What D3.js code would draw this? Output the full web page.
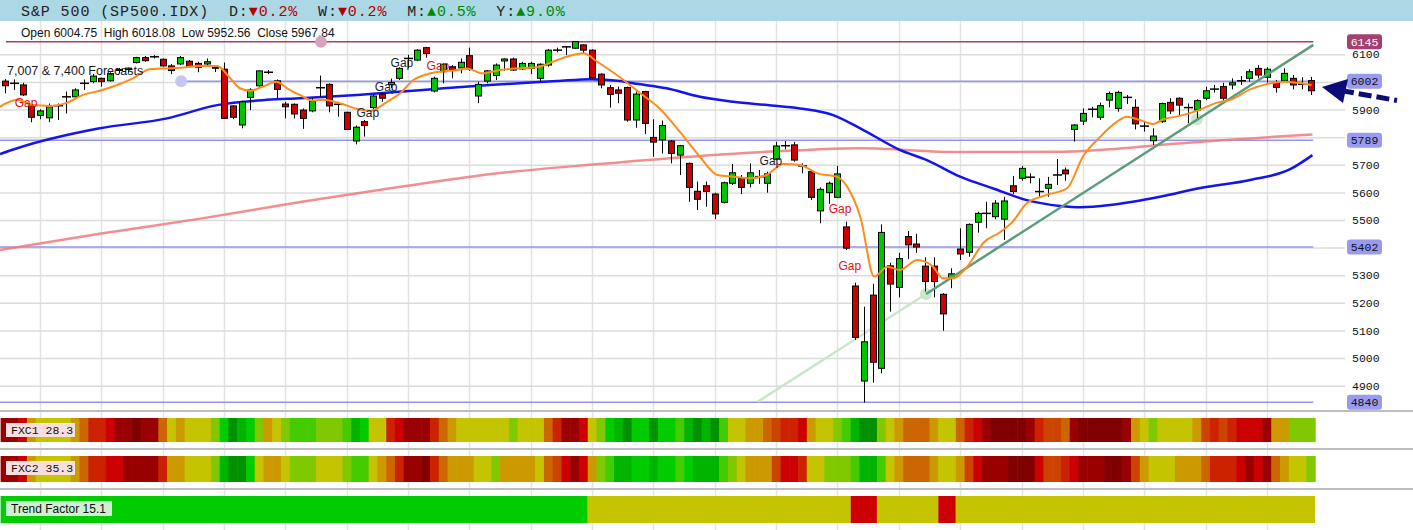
<!DOCTYPE html>
<html><head><meta charset="utf-8">
<script src="https://cdn.jsdelivr.net/npm/d3@7"></script>
<style>body{margin:0;background:#fff}svg{display:block}</style>
</head><body>
<svg id="c" width="1413" height="530"></svg>
<script>
// ---------------- DATA ----------------
const symbolTitle = "S&P 500 (SP500.IDX)";
const changeLabels = ["D", "W", "M", "Y"];
const changeValues = [-0.2, -0.2, 0.5, 9.0];

const opens = [6003,5995,5989,5913,5879,5870,5914,5946,5946,5995,
 6001,6013,6004,6043,6045,6070,6088,6091,6082,6058,
 6065,6075,6067,6065,6053,6046,5913,5844,5944,5986,
 6035,6004,5920,5919,5898,5895,5979,5991,5919,5890,
 5786,5856,5907,5956,5990,6013,6085,6079,6124,5967,
 6037,6055,6051,6095,5949,6003,6023,6076,6083,6047,
 6049,6013,6061,6115,6127,6122,6134,6115,6028,5979,
 5971,5980,5862,5965,5799,5790,5786,5735,5705,5604,
 5624,5594,5564,5633,5651,5633,5657,5633,5720,5769,
 5772,5696,5675,5533,5599,5582,5475,5261,4917,5228,
 4963,5334,5256,5440,5413,5333,5333,5231,5289,5395,
 5383,5492,5524,5512,5503,5624,5651,5655,5603,5615,
 5663,5681,5828,5858,5901,5872,5934,5904,5944,5908,
 5840,5787,5856,5926,5941,5907,5898,5941,5974,5983,
 5989,6004,6013,6049,6017,5997,6004,6013,5992,6004.75];
const highs = [6010,6009,5997,5916,5901,5922,5922,5965,5977,6009,
 6029,6015,6035,6050,6052,6091,6094,6097,6085,6065,
 6094,6079,6073,6085,6057,6070,5916,5932,5977,6041,
 6043,6009,5928,5922,5904,5943,6023,5995,5928,5892,
 5842,5862,5953,5962,6012,6053,6098,6119,6127,6019,
 6067,6061,6085,6124,6001,6043,6067,6085,6088,6073,
 6073,6067,6119,6124,6130,6148,6136,6118,6031,5989,
 5983,5983,5965,5968,5865,5860,5790,5772,5708,5639,
 5639,5599,5639,5703,5663,5705,5681,5675,5783,5786,
 5783,5705,5681,5618,5639,5696,5494,5273,5186,5269,
 5484,5345,5381,5460,5450,5365,5365,5235,5325,5470,
 5488,5530,5566,5572,5584,5659,5696,5669,5651,5656,
 5721,5690,5847,5904,5910,5925,5965,5968,5953,5937,
 5856,5832,5925,5941,5944,5922,5937,5983,5989,5997,
 6013,6021,6046,6061,6053,6007,6049,6025,6017,6018.08];
const lows = [5959,5971,5949,5854,5865,5854,5862,5886,5944,5971,
 5995,5983,6001,6032,6033,6067,6073,6085,6055,6028,
 6061,6053,6035,6055,6036,5866,5865,5832,5898,5983,
 6028,5941,5868,5868,5830,5890,5946,5890,5874,5826,
 5774,5802,5898,5928,5978,6007,6050,6075,6088,5962,
 5995,6013,6031,6040,5923,5995,6007,6040,6040,6043,
 6028,6001,6055,6107,6097,6119,6103,6011,5977,5907,
 5923,5856,5834,5811,5729,5741,5705,5663,5566,5536,
 5548,5503,5560,5627,5594,5618,5631,5599,5717,5756,
 5711,5669,5572,5488,5558,5579,5391,5066,4839,4911,
 4945,5168,5220,5358,5381,5241,5220,5099,5253,5355,
 5367,5454,5470,5503,5428,5594,5642,5633,5584,5584,
 5627,5642,5784,5844,5872,5862,5908,5892,5920,5828,
 5820,5772,5852,5884,5880,5850,5868,5934,5961,5932,
 5973,5989,6001,6013,5997,5961,6001,5973,5973,5952.56];
const closes = [5986,5995,5953,5872,5895,5910,5914,5946,5971,5995,
 6021,6001,6030,6045,6050,6088,6077,6091,6058,6041,
 6088,6055,6053,6073,6050,5868,5872,5928,5971,6040,
 6035,5973,5910,5884,5868,5931,5979,5913,5919,5828,
 5836,5842,5949,5941,5998,6049,6085,6115,6103,6013,
 6064,6043,6071,6047,5991,6040,6061,6083,6043,6067,
 6067,6064,6115,6115,6127,6146,6115,6015,5989,5955,
 5959,5862,5956,5850,5782,5842,5741,5769,5618,5575,
 5603,5522,5635,5671,5618,5671,5657,5667,5768,5769,
 5717,5696,5582,5611,5633,5667,5398,5075,5059,4985,
 5455,5268,5360,5410,5402,5277,5277,5160,5305,5377,
 5484,5524,5524,5561,5569,5603,5687,5655,5603,5629,
 5663,5667,5844,5886,5901,5914,5958,5962,5944,5848,
 5840,5804,5922,5895,5916,5907,5932,5968,5974,5941,
 5997,6004,6037,6025,6046,5980,6031,5989,5992,5967.84];

// moving averages: [bar position, value]
const fastMA = [[-0.57,5910],[1.4,5935],[3.2,5916],[5.1,5913],[7.1,5925],[8.9,5953],[10.8,5968],[12.8,5989],[14.6,6013],[16.5,6046],[18.5,6049],[20.3,6052],[22.3,6058],[24.2,6058],[25.7,6013],[26.8,5977],[28,5968],[29.4,5983],[31,6001],[32.2,5977],[33.7,5952],[35,5933],[36.3,5935],[38.2,5923],[40.2,5902],[41.7,5895],[43.6,5928],[45.1,5959],[46.6,6007],[48.2,6028],[49.6,6037],[51.6,6043],[52.7,6049],[54.5,6031],[56.5,6043],[58.4,6049],[60.7,6053],[62.5,6073],[64.1,6091],[66,6104],[67.6,6073],[69,6043],[70.2,6016],[72.5,5959],[74.7,5904],[77,5820],[79.3,5729],[81.3,5663],[83.1,5657],[85,5651],[86.9,5663],[88.8,5703],[90.7,5699],[92.7,5669],[94.9,5657],[96.1,5621],[97.6,5512],[99.2,5295],[100.7,5331],[102.1,5319],[104.1,5355],[105.9,5331],[107,5289],[108.2,5289],[109.8,5331],[111.6,5416],[113.5,5455],[115,5494],[116.6,5561],[118.9,5591],[121.2,5615],[123,5729],[125,5802],[126.9,5856],[128,5874],[129.5,5862],[131,5848],[132.2,5865],[134.1,5877],[136,5895],[138.3,5925],[139.8,5935],[142.1,5973],[144,5992],[145.9,6001],[147.4,5997],[149.1,5989]];
const midMA = [[-0.57,5739],[1.4,5760],[10.8,5832],[18.5,5868],[24.2,5916],[29.9,5935],[33.7,5941],[40.2,5953],[47.7,5971],[55.3,5989],[63,6003],[66.8,6010],[70.2,6003],[71.7,5995],[75.5,5977],[79.3,5946],[83.1,5928],[87,5916],[90.7,5904],[94.5,5880],[97.6,5832],[102.1,5754],[105.2,5717],[109,5657],[112.7,5615],[116.6,5572],[120.4,5551],[122.7,5546],[126.1,5554],[128.7,5566],[131.8,5584],[136.4,5616],[142.1,5645],[146.6,5683],[149.2,5735]];
const slowMA = [[-0.57,5391],[10.8,5450],[22.3,5505],[33.7,5565],[45.1,5620],[56.5,5670],[67.9,5703],[79.3,5732],[90.7,5753],[97.6,5760],[109,5746],[120.4,5747],[126.1,5756],[131.8,5772],[149.2,5810]];

// trend line anchors [bar position, value]
const trendFaint = [[85.9,4842],[105.1,5232]];
const trendSolid = [[105.1,5232],[149.3,6134]];
const trendTouches = [[105.1,5232],[136,5865]];

// horizontal levels
const levelValues = [6145, 6002, 5789, 5402, 4840];
const levelStarts = [0.1, 20.1, -0.6, -0.6, -0.6];
const levelKinds = ["top", "std", "std", "std", "std"];
const levelMarkers = [[36.06, 6145, "top"], [20.1, 6002, "std"]];

const tickValues = [4900,5000,5100,5200,5300,5400,5500,5600,5700,5800,5900,6000,6100];
const gridBars = [4,11,18,25,32,39,46,53,60,67,74,81,88,95,102,109,116,123,130,137,144];

// annotations [bar position, value, text, colour kind]
const gapNotes = [[2.4,5927,"Gap","red"],[41.4,5891,"Gap","dark"],[43.5,5985,"Gap","dark"],[45.3,6072,"Gap","dark"],[49.4,6061,"Gap","red"],[87.4,5714,"Gap","dark"],[95.3,5542,"Gap","red"],[96.4,5335,"Gap","red"]];
const forecastNote = [0.23, 6025, "7,007 & 7,400 Forecasts"];

// indicator strips (one code per bar)
const fxc1Name = "FXC1", fxc1Value = 28.3;
const fxc2Name = "FXC2", fxc2Value = 35.3;
const trendName = "Trend Factor", trendValue = 15.1;
const fxc1Cells = "BBCGHHHHGF"+"DDCBBABBFH"+"GHHHIKMLKI"+"GHIJJJIIIJ"+"LKHHDCBBBD"+"FGHHHHHHIH"+"HHFDBBCHIK"+"LMKKMKKJLM"+"LMJHHGGFED"+"DCGHHIJLMM"+"IHGFFFGHHF"+"DCBAAAABDE"+"EFBAAAAABG"+"HIHHHHGEDE"+"DCCCBGGIII";
const fxc2Cells = "BBCGHHHHGF"+"DDCCBBBBDG"+"GHHHILMMKH"+"GGHIIIHHHI"+"JJHGFDBBAD"+"FGGGHHIGGG"+"GHFECBCGIJ"+"LLKKLKKJKL"+"LLJIHGGGEC"+"CDHHIIIJLL"+"JHGFFFGHHG"+"ECBBBAAACE"+"EDCBBBAABE"+"GHHHGGGFDD"+"DCBCBFGHHI";
const trendSegments = [[0,66,"K"],[67,96,"H"],[97,99,"C"],[100,106,"H"],[107,108,"C"],[109,149,"H"]];
const heatPalette = {A:"#800000",B:"#990000",C:"#cc0000",D:"#cc2200",E:"#cc4400",F:"#cc6600",G:"#cc9900",H:"#c4c400",I:"#80c800",J:"#44cc00",K:"#00cc00",L:"#00b400",M:"#009000"};

// ---------------- DRAW ----------------
const svg = d3.select("#c");
const N = opens.length;
const x = d3.scaleLinear().domain([0, N - 1]).range([5, 1310.7]);
const y = d3.scaleLinear().domain([4900, 6100]).range([385.7, 54.3]);
const cw = x(1) - x(0);
const mono = "'Liberation Mono','DejaVu Sans Mono',monospace";
const sans = "'Liberation Sans',Arial,sans-serif";

svg.append("rect").attr("width", 1413).attr("height", 530).attr("fill", "#fff");

// vertical grid
svg.append("g").selectAll("line").data(gridBars).join("line")
  .attr("x1", d => Math.round(x(d)) + 0.5).attr("x2", d => Math.round(x(d)) + 0.5)
  .attr("y1", 21).attr("y2", 530)
  .attr("stroke", "#e3e3e3").attr("stroke-width", 1.5);

// horizontal grid + right labels (labels hidden where a level box sits)
const nearLevel = v => levelValues.some(l => Math.abs(y(l) - y(v)) < 12);
const ax = svg.append("g")
  .call(d3.axisRight(y).tickValues(tickValues).tickSize(1345).tickPadding(7)
    .tickFormat(v => nearLevel(v) ? "" : d3.format("d")(v)));
ax.select(".domain").remove();
ax.selectAll(".tick line").attr("stroke", "#dcdcdc").attr("stroke-width", 1.5);
ax.selectAll(".tick text").attr("font-family", mono).attr("font-size", 11.5).attr("fill", "#111");

// header band
svg.append("rect").attr("x", 0).attr("y", 0).attr("width", 1413).attr("height", 21).attr("fill", "#acd8e6");
const ht = svg.append("text").attr("x", 21).attr("y", 15.5)
  .attr("font-family", mono).attr("font-size", 15).attr("letter-spacing", 0.9).attr("xml:space", "preserve");
ht.append("tspan").attr("fill", "#222").text(symbolTitle + "  ");
changeLabels.forEach((lab, i) => {
  const v = changeValues[i];
  ht.append("tspan").attr("fill", "#222").text(lab + ":");
  ht.append("tspan").attr("fill", v < 0 ? "#b00000" : "#008a00")
    .text((v < 0 ? "\u25BC" : "\u25B2") + Math.abs(v).toFixed(1) + "%" + (i < changeLabels.length - 1 ? "  " : ""));
});

// OHLC info line
const last = N - 1;
svg.append("text").attr("x", 21).attr("y", 37).attr("font-family", sans).attr("font-size", 12).attr("fill", "#111")
  .attr("xml:space", "preserve")
  .text(`Open ${opens[last].toFixed(2)}  High ${highs[last].toFixed(2)}  Low ${lows[last].toFixed(2)}  Close ${closes[last].toFixed(2)}`);

// level lines
const levelColor = k => k === "top" ? "#a3406d" : "#9494ee";
svg.append("g").selectAll("line").data(levelValues).join("line")
  .attr("x1", (d, i) => x(levelStarts[i])).attr("x2", x(149.3))
  .attr("y1", d => y(d)).attr("y2", d => y(d))
  .attr("stroke", (d, i) => levelColor(levelKinds[i])).attr("stroke-width", 1.5);
svg.append("g").selectAll("circle").data(levelMarkers).join("circle")
  .attr("cx", d => x(d[0])).attr("cy", d => y(d[1])).attr("r", 6)
  .attr("fill", d => d[2] === "top" ? "#d9a3be" : "#c6c6f2");

// moving averages (behind candles)
const line = d3.line().x(d => x(d[0])).y(d => y(d[1])).curve(d3.curveMonotoneX);
svg.append("path").datum(slowMA).attr("d", line).attr("fill", "none")
  .attr("stroke", "#f07a7a").attr("stroke-opacity", 0.85).attr("stroke-width", 2.5);
svg.append("path").datum(midMA).attr("d", line).attr("fill", "none")
  .attr("stroke", "#1414ee").attr("stroke-width", 2.5);

// faint trend part
const sline = d3.line().x(d => x(d[0])).y(d => y(d[1]));
svg.append("path").datum(trendFaint).attr("d", sline).attr("stroke", "#c9e6cb").attr("stroke-width", 2.5).attr("fill", "none");
svg.append("g").selectAll("circle").data(trendTouches).join("circle")
  .attr("cx", d => x(d[0])).attr("cy", d => y(d[1])).attr("r", 6).attr("fill", "#c9e6cb");

// candles
const idx = d3.range(N);
const cg = svg.append("g");
cg.selectAll("line.w").data(idx).join("line").attr("class", "w")
  .attr("x1", i => Math.round(x(i)) + 0.5).attr("x2", i => Math.round(x(i)) + 0.5)
  .attr("y1", i => y(highs[i])).attr("y2", i => y(lows[i]))
  .attr("stroke", "#000").attr("stroke-width", 1);
const bw = 6;
const isCross = i => Math.abs(opens[i] - closes[i]) < 1.5;
cg.selectAll("rect.b").data(idx.filter(i => !isCross(i))).join("rect").attr("class", "b")
  .attr("x", i => Math.round(x(i)) - bw / 2 + 0.5)
  .attr("y", i => y(Math.max(opens[i], closes[i])))
  .attr("width", bw)
  .attr("height", i => Math.max(1, Math.abs(y(opens[i]) - y(closes[i]))))
  .attr("fill", i => closes[i] >= opens[i] ? "#00c400" : "#cc0000")
  .attr("stroke", "#000").attr("stroke-width", 1);
cg.selectAll("line.x").data(idx.filter(isCross)).join("line").attr("class", "x")
  .attr("x1", i => Math.round(x(i)) - 4).attr("x2", i => Math.round(x(i)) + 5)
  .attr("y1", i => y(opens[i])).attr("y2", i => y(opens[i]))
  .attr("stroke", "#000").attr("stroke-width", 1.5);

// solid trend line + fast MA over candles
svg.append("path").datum(trendSolid).attr("d", sline).attr("stroke", "#5b9c7c").attr("stroke-width", 2.5).attr("fill", "none");
svg.append("path").datum(fastMA).attr("d", line).attr("fill", "none")
  .attr("stroke", "#ff8c1a").attr("stroke-width", 2);

// annotations
svg.append("g").selectAll("text").data(gapNotes).join("text")
  .attr("x", d => x(d[0])).attr("y", d => y(d[1]) + 4.5).attr("text-anchor", "middle")
  .attr("font-family", sans).attr("font-size", 12)
  .attr("fill", d => d[3] === "red" ? "#e01010" : "#1e1e2e").text(d => d[2]);
svg.append("text").attr("x", x(forecastNote[0])).attr("y", y(forecastNote[1]))
  .attr("font-family", sans).attr("font-size", 12.5).attr("fill", "#1a1a1a").text(forecastNote[2]);

// level value boxes
const lb = svg.append("g").selectAll("g").data(levelValues).join("g")
  .attr("transform", d => `translate(1347,${y(d)})`);
lb.append("rect").attr("x", 0).attr("y", -7.5).attr("width", 35).attr("height", 15).attr("rx", 3)
  .attr("fill", (d, i) => levelKinds[i] === "top" ? "#a3406d" : "#9a9af0");
lb.append("text").attr("x", 17.5).attr("y", 4).attr("text-anchor", "middle")
  .attr("font-family", mono).attr("font-size", 11.5)
  .attr("fill", (d, i) => levelKinds[i] === "top" ? "#fff" : "#111").text(d => d);

// arrow
svg.append("line").attr("x1", 1341).attr("y1", 90.5).attr("x2", 1397).attr("y2", 100.5)
  .attr("stroke", "#0c0c78").attr("stroke-width", 5).attr("stroke-dasharray", "13,5");
svg.append("path").attr("d", "M1322,87 L1348,79 L1343,103 Z").attr("fill", "#0c0c78");

// separators
[411, 449, 489].forEach(yy => svg.append("line").attr("x1", 0).attr("x2", 1413).attr("y1", yy).attr("y2", yy)
  .attr("stroke", "#bdbdbd").attr("stroke-width", 2));

// indicator strips
function strip(codes, y0, h) {
  svg.append("g").selectAll("rect").data(idx).join("rect")
    .attr("x", i => x(i) - cw / 2).attr("y", y0).attr("width", cw + 0.6).attr("height", h)
    .attr("fill", i => heatPalette[codes[i]]);
}
strip(fxc1Cells, 418, 24);
strip(fxc2Cells, 456, 26);
const tg = svg.append("g");
trendSegments.forEach(s => {
  tg.append("rect").attr("x", x(s[0]) - cw / 2).attr("y", 496)
    .attr("width", x(s[1]) - x(s[0]) + cw).attr("height", 27).attr("fill", heatPalette[s[2]]);
});

function tag(label, yTop, w, h, bg, font, size, tx, ty) {
  svg.append("rect").attr("x", 6).attr("y", yTop).attr("width", w).attr("height", h).attr("fill", bg);
  svg.append("text").attr("x", tx).attr("y", ty).attr("font-family", font).attr("font-size", size)
    .attr("fill", "#111").attr("xml:space", "preserve").text(label);
}
tag(`${fxc1Name} ${fxc1Value.toFixed(1)}`, 423, 69, 14, "#f9dede", mono, 11.5, 11, 434);
tag(`${fxc2Name} ${fxc2Value.toFixed(1)}`, 461, 69, 14, "#f9dede", mono, 11.5, 11, 472);
tag(`${trendName} ${trendValue.toFixed(1)}`, 501, 106, 15, "#cdf0d2", sans, 12, 11, 513);
</script>
</body></html>
